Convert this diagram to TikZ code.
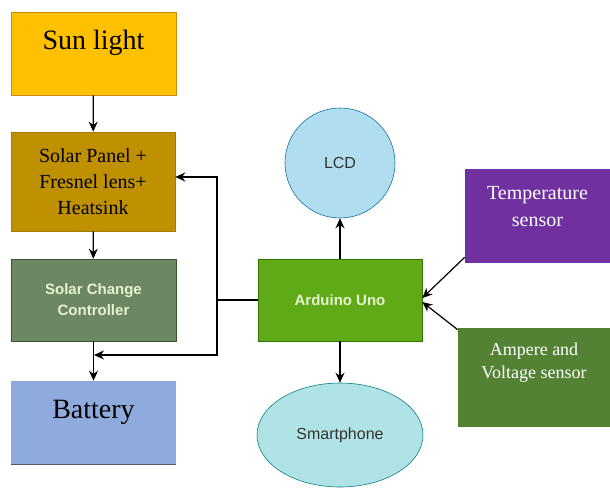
\documentclass[tikz,border=0pt]{standalone}
\usepackage{fontspec}
\setmainfont{Liberation Serif}
\setsansfont{Liberation Sans}
\usepackage{tikz}
\usetikzlibrary{arrows.meta,shapes.geometric}

\definecolor{sunfill}{HTML}{FFC000}
\definecolor{sunline}{HTML}{C98A10}
\definecolor{panelfill}{HTML}{BF9000}
\definecolor{panelline}{HTML}{A57C00}
\definecolor{ctrlfill}{HTML}{6D8764}
\definecolor{ctrlline}{HTML}{3A5431}
\definecolor{batfill}{HTML}{8FAADC}
\definecolor{batline}{HTML}{4F5A6B}
\definecolor{ardfill}{HTML}{60A917}
\definecolor{ardline}{HTML}{2D7600}
\definecolor{ardtext}{HTML}{E4F4CF}
\definecolor{lcdfill}{HTML}{B1DDF0}
\definecolor{lcdline}{HTML}{10739E}
\definecolor{phonefill}{HTML}{B0E3E6}
\definecolor{phoneline}{HTML}{0E8088}
\definecolor{tempfill}{HTML}{7030A0}
\definecolor{ampfill}{HTML}{548235}
\definecolor{softtext}{HTML}{333333}

\begin{document}
\begin{tikzpicture}[x=1pt,y=-1pt,
  blk/.style={rectangle,inner sep=0pt,line width=0.6pt},
  lbl/.style={inner sep=0pt,align=center},
  arr/.style={line width=1.2pt,-{Stealth[length=10pt,width=9pt]}},
  wire/.style={line width=1.2pt}]
\useasboundingbox (0,0) rectangle (610,487);
% power side
\node [blk,fill=sunfill,draw=sunline,minimum width=165pt,minimum height=83pt] (sun) at (93.5,53.5) {};
\node [blk,fill=panelfill,draw=panelline,minimum width=164pt,minimum height=99pt,
  font=\fontsize{20}{26}\selectfont,lbl] (panel) at (93,181.5)
  {Solar Panel +\\Fresnel lens+\\Heatsink};
\node [blk,fill=ctrlfill,draw=ctrlline,minimum width=165pt,minimum height=82pt,
  font=\sffamily\bfseries\fontsize{15}{21}\selectfont,text=ardtext,lbl] (ctrl) at (93.5,300)
  {Solar Change\\Controller};
\node [blk,fill=batfill,minimum width=165pt,minimum height=83pt] (bat) at (93.5,422.5) {};
\draw [batline,line width=1pt] (bat.south west) -- (bat.south east);
\node [lbl,anchor=base,font=\fontsize{28}{34}\selectfont] (sunlbl) at (93.5,50) {Sun light};
\node [lbl,anchor=base,font=\fontsize{28}{34}\selectfont] (batlbl) at (93.5,418) {Battery};
% controller side
\node [blk,fill=ardfill,draw=ardline,minimum width=164pt,minimum height=82pt,
  font=\sffamily\bfseries\fontsize{15}{18}\selectfont,text=ardtext] (ard) at (340,300) {Arduino Uno};
\node [circle,fill=lcdfill,draw=lcdline,line width=0.6pt,minimum size=110pt,inner sep=0pt,
  font=\sffamily\fontsize{16}{18}\selectfont,text=softtext] (lcd) at (340,163) {LCD};
\node [ellipse,fill=phonefill,draw=phoneline,line width=0.6pt,minimum width=166pt,minimum height=104pt,
  inner sep=0pt,font=\sffamily\fontsize{16}{18}\selectfont,text=softtext] (phone) at (340,435) {Smartphone};
\node [blk,fill=tempfill,minimum width=145pt,minimum height=94pt] (temp) at (537.5,216) {};
\node [blk,fill=ampfill,minimum width=152pt,minimum height=99pt] (amp) at (534,377.5) {};
\node [lbl,anchor=base,text=white,font=\fontsize{20}{27}\selectfont] (templbl) at (537.5,226)
  {Temperature\\sensor};
\node [lbl,anchor=base,text=white,font=\fontsize{18}{23}\selectfont] (amplbl) at (534,378)
  {Ampere and\\Voltage sensor};
% connectors
\draw [arr] (sun) -- (panel);
\draw [arr] (panel) -- (ctrl);
\draw [arr] (ctrl) -- (bat);
\coordinate (fb) at (217,300);
\coordinate (bj) at (94,355);
\draw [wire] (ard.west) -- (fb);
\draw [arr] (fb) |- ([yshift=4.5pt]panel.east);
\draw [arr] (fb) |- (bj);
\draw [arr] (ard) -- (lcd);
\draw [arr] (ard) -- (phone);
\draw [arr] ([yshift=6pt]temp.south west) -- ([yshift=2pt]ard.east);
\draw [arr] ([yshift=-2pt]amp.north west) -- ([yshift=-2pt]ard.east);
\end{tikzpicture}
\end{document}
